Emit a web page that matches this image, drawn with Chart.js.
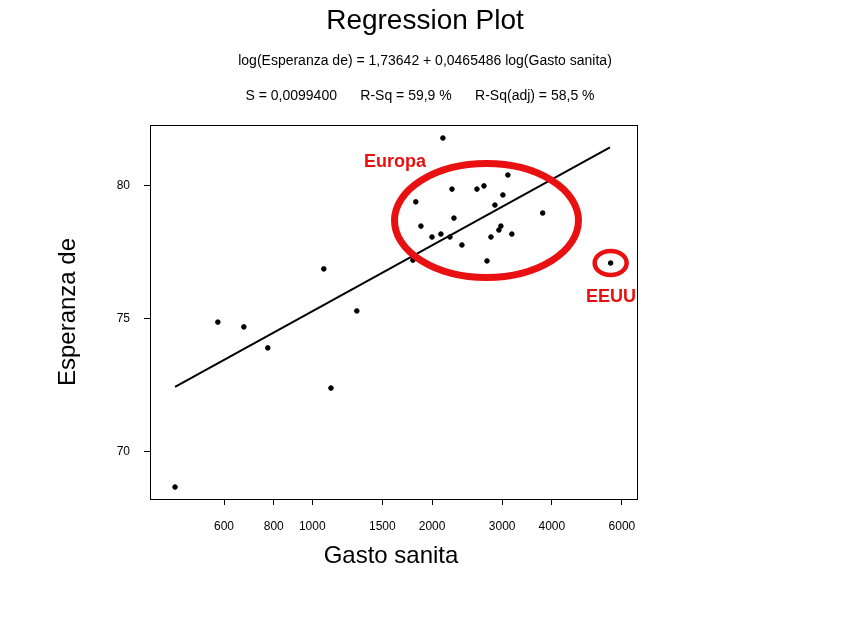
<!DOCTYPE html>
<html>
<head>
<meta charset="utf-8">
<script src="https://cdn.jsdelivr.net/npm/chart.js@4"></script>
<style>
  html, body { margin: 0; padding: 0; background: #fff; }
  #wrap { width: 851px; height: 626px; }
</style>
</head>
<body>
<div id="wrap"><canvas id="chart" width="851" height="626"></canvas></div>
<script>
// gasto sanitario (x, log scale) vs esperanza de vida (y)
const gasto = [452, 579, 673, 773, 1069, 1114, 1294, 1790, 1820, 1875, 1999, 2105, 2129, 2218,
  2244, 2270, 2377, 2593, 2700, 2748, 2812, 2877, 2944, 2978, 3013, 3101, 3173, 3793, 5620];
const esperanza = [68.68, 74.88, 74.70, 73.91, 76.88, 72.40, 75.30, 77.21, 79.40, 78.49, 78.08, 78.19, 81.80, 78.08,
  79.88, 78.79, 77.78, 79.88, 80.00, 77.18, 78.08, 79.28, 78.34, 78.49, 79.66, 80.41, 78.19, 78.98, 77.10];
const xTicks = [600, 800, 1000, 1500, 2000, 3000, 4000, 6000];
const yTicks = [70, 75, 80];
const intercept = 1.73642, slope = 0.0465486;
const fitRange = [452, 5598];

const font = '"Liberation Sans", Arial, sans-serif';
const fitLine = fitRange.map(x => ({ x: x, y: Math.pow(10, intercept + slope * Math.log10(x)) }));

const decor = {
  id: 'decor',
  afterDraw(chart) {
    const c = chart.ctx, a = chart.chartArea;
    const xs = chart.scales.x, ys = chart.scales.y;
    c.save();
    c.strokeStyle = '#000'; c.lineWidth = 1;
    c.strokeRect(a.left + 0.5, a.top + 0.5, a.right - a.left, a.bottom - a.top);
    c.fillStyle = '#000'; c.textAlign = 'center'; c.textBaseline = 'middle';
    c.font = '28px ' + font; c.fillText('Regression Plot', 425, 21);
    c.font = '14px ' + font;
    c.fillText('log(Esperanza de) = 1,73642 + 0,0465486 log(Gasto sanita)', 425, 61);
    c.fillText('S = 0,0099400      R-Sq = 59,9 %      R-Sq(adj) = 58,5 %', 420, 96);
    c.font = '24px ' + font;
    c.fillText('Gasto sanita', 391, 556);
    c.save(); c.translate(68, 312); c.rotate(-Math.PI / 2); c.fillText('Esperanza de', 0, 0); c.restore();
    // red annotations
    c.strokeStyle = '#e81010'; c.lineWidth = 7;
    c.beginPath(); c.ellipse(xs.getPixelForValue(2740), ys.getPixelForValue(78.7), 92, 57, 0, 0, Math.PI * 2); c.stroke();
    c.lineWidth = 4.5;
    c.beginPath(); c.ellipse(xs.getPixelForValue(5620), ys.getPixelForValue(77.1), 16, 12, 0, 0, Math.PI * 2); c.stroke();
    c.fillStyle = '#e81010'; c.font = 'bold 18px ' + font;
    c.fillText('Europa', 395, 162);
    c.fillText('EEUU', 611, 297);
    c.restore();
  }
};

new Chart(document.getElementById('chart'), {
  type: 'scatter',
  data: {
    datasets: [
      { data: gasto.map((x, i) => ({ x: x, y: esperanza[i] })), backgroundColor: '#000', borderColor: '#000', pointRadius: 2.3 },
      { type: 'line', data: fitLine, borderColor: '#000', borderWidth: 2, pointRadius: 0, fill: false }
    ]
  },
  options: {
    responsive: false,
    animation: false,
    layout: { padding: { top: 125, left: 0, right: 214, bottom: 37 } },
    plugins: { legend: { display: false }, tooltip: { enabled: false } },
    scales: {
      x: {
        type: 'logarithmic', min: 391, max: 6546,
        afterBuildTicks: s => { s.ticks = xTicks.map(v => ({ value: v })); },
        afterFit: s => { s.height = 90; },
        grid: { drawOnChartArea: false, color: '#000', tickLength: 6 },
        border: { display: false },
        ticks: { color: '#000', font: { family: font, size: 12 }, maxRotation: 0, padding: 14, callback: v => String(v) }
      },
      y: {
        min: 68.23, max: 82.29,
        afterBuildTicks: s => { s.ticks = yTicks.map(v => ({ value: v })); },
        afterFit: s => { s.width = 150; },
        grid: { drawOnChartArea: false, color: '#000', tickLength: 6 },
        border: { display: false },
        ticks: { color: '#000', font: { family: font, size: 12 }, padding: 14 }
      }
    }
  },
  plugins: [decor]
});
</script>
</body>
</html>
